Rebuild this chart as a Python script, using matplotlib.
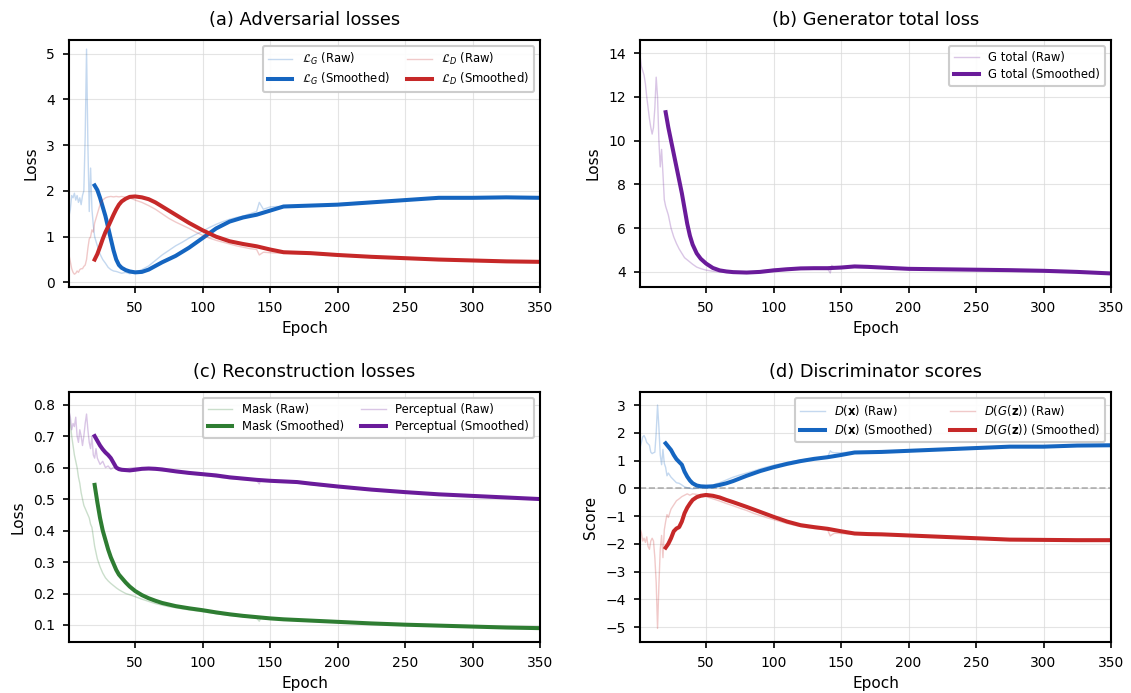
import matplotlib
matplotlib.use("Agg")
import matplotlib.pyplot as plt

# ---------------- data ----------------
raw_epochs = [1, 2, 3, 4, 5, 6, 7, 8, 9, 10, 11, 12, 13, 14, 15, 16, 17, 18, 19, 20, 21, 22,
              24, 26, 28, 30, 32, 34, 36, 38, 40, 43, 46, 50, 55, 60, 65, 70, 75, 80, 85, 90,
              95, 100, 105, 110, 115, 120, 125, 130, 135, 140, 142, 143, 145, 150, 155, 160,
              170, 180, 190, 200, 220, 240, 260, 280, 300, 320, 340, 350]
smooth_epochs = [20, 22, 24, 26, 28, 30, 32, 34, 36, 38, 40, 43, 46, 50, 55, 60, 65, 70, 80, 90,
                 100, 110, 120, 130, 140, 150, 160, 170, 180, 200, 225, 250, 275, 300, 325, 350]

lg_raw = [1.45, 1.6, 1.9, 1.85, 1.95, 1.8, 1.9, 1.75, 1.85, 1.7, 1.9, 2.0, 3.2, 5.1, 3.0, 1.55, 2.5, 1.6,
          1.25, 1.0, 0.9, 0.8, 0.62, 0.5, 0.42, 0.33, 0.28, 0.25, 0.24, 0.22, 0.2, 0.22, 0.19, 0.22,
          0.28, 0.36, 0.48, 0.6, 0.7, 0.8, 0.88, 0.97, 1.05, 1.12, 1.2, 1.27, 1.33, 1.38, 1.42, 1.45,
          1.5, 1.55, 1.75, 1.7, 1.6, 1.65, 1.66, 1.65, 1.67, 1.68, 1.7, 1.72, 1.76, 1.79, 1.82, 1.85,
          1.85, 1.86, 1.85, 1.85]
ld_raw = [0.6, 0.45, 0.3, 0.22, 0.18, 0.2, 0.25, 0.22, 0.28, 0.3, 0.3, 0.35, 0.38, 0.5, 0.75, 0.95,
          1.0, 1.15, 1.1, 1.3, 1.4, 1.5, 1.7, 1.8, 1.85, 1.87, 1.88, 1.87, 1.88, 1.87, 1.88, 1.86,
          1.85, 1.8, 1.75, 1.68, 1.6, 1.5, 1.4, 1.32, 1.25, 1.18, 1.1, 1.03, 0.97, 0.92, 0.88, 0.84,
          0.8, 0.77, 0.74, 0.72, 0.6, 0.62, 0.66, 0.65, 0.64, 0.64, 0.63, 0.62, 0.6, 0.58, 0.56,
          0.53, 0.51, 0.49, 0.47, 0.46, 0.45, 0.45]
lg_smooth = [2.12, 2.02, 1.85, 1.65, 1.45, 1.2, 0.95, 0.7, 0.5, 0.38, 0.32, 0.27, 0.24, 0.22, 0.23,
             0.28, 0.36, 0.44, 0.58, 0.76, 0.97, 1.18, 1.33, 1.42, 1.48, 1.57, 1.66, 1.67, 1.68,
             1.70, 1.75, 1.80, 1.85, 1.85, 1.86, 1.85]
ld_smooth = [0.5, 0.62, 0.78, 0.95, 1.1, 1.22, 1.35, 1.48, 1.6, 1.7, 1.77, 1.83, 1.87, 1.88, 1.86,
             1.82, 1.75, 1.66, 1.48, 1.3, 1.14, 1.0, 0.9, 0.84, 0.79, 0.72, 0.66, 0.65, 0.64, 0.60,
             0.56, 0.53, 0.5, 0.48, 0.46, 0.45]

gtot_raw = [13.9, 13.4, 13.2, 13.0, 12.6, 12.0, 11.5, 11.0, 10.6, 10.3, 10.6, 11.5, 12.9, 12.0, 10.0,
            8.8, 9.6, 8.5, 7.3, 7.0, 6.8, 6.6, 6.0, 5.6, 5.3, 5.05, 4.85, 4.65, 4.55, 4.45, 4.35,
            4.22, 4.15, 4.08, 4.03, 4.0, 3.98, 3.97, 3.97, 3.98, 4.0, 4.05, 4.08, 4.12, 4.15, 4.17,
            4.18, 4.18, 4.18, 4.17, 4.17, 4.15, 3.95, 4.3, 4.22, 4.23, 4.25, 4.26, 4.22, 4.18, 4.15,
            4.13, 4.12, 4.11, 4.1, 4.08, 4.05, 4.01, 3.97, 3.93]
gtot_smooth = [11.3, 10.6, 10.0, 9.4, 8.8, 8.2, 7.6, 6.9, 6.2, 5.65, 5.25, 4.85, 4.6, 4.38, 4.18,
               4.07, 4.02, 3.99, 3.97, 4.0, 4.07, 4.12, 4.16, 4.17, 4.17, 4.2, 4.25, 4.23, 4.2,
               4.14, 4.12, 4.1, 4.08, 4.05, 4.0, 3.93]

mask_raw = [0.78, 0.74, 0.7, 0.67, 0.64, 0.62, 0.6, 0.57, 0.55, 0.52, 0.5, 0.48, 0.47, 0.46, 0.45,
            0.44, 0.42, 0.41, 0.38, 0.35, 0.33, 0.31, 0.285, 0.265, 0.25, 0.24, 0.232, 0.225, 0.218,
            0.212, 0.207, 0.2, 0.196, 0.19, 0.182, 0.175, 0.168, 0.163, 0.158, 0.155, 0.151, 0.148,
            0.145, 0.142, 0.139, 0.136, 0.133, 0.13, 0.128, 0.126, 0.124, 0.122, 0.112, 0.121, 0.12,
            0.119, 0.118, 0.117, 0.115, 0.112, 0.11, 0.108, 0.105, 0.102, 0.1, 0.098, 0.095, 0.093,
            0.091, 0.09]
mask_smooth = [0.545, 0.49, 0.44, 0.40, 0.37, 0.34, 0.315, 0.295, 0.275, 0.26, 0.25, 0.235, 0.222,
               0.208, 0.195, 0.185, 0.177, 0.17, 0.16, 0.153, 0.147, 0.14, 0.134, 0.129, 0.125,
               0.121, 0.118, 0.116, 0.114, 0.11, 0.105, 0.101, 0.098, 0.095, 0.092, 0.09]
perc_raw = [0.78, 0.76, 0.72, 0.74, 0.73, 0.76, 0.7, 0.68, 0.72, 0.7, 0.67, 0.7, 0.74, 0.77, 0.72,
            0.68, 0.66, 0.7, 0.64, 0.63, 0.66, 0.63, 0.61, 0.62, 0.6, 0.605, 0.595, 0.6, 0.598, 0.6,
            0.597, 0.595, 0.598, 0.6, 0.598, 0.596, 0.593, 0.59, 0.588, 0.585, 0.583, 0.58, 0.578,
            0.576, 0.573, 0.57, 0.567, 0.565, 0.563, 0.562, 0.56, 0.559, 0.548, 0.56, 0.558, 0.557,
            0.556, 0.555, 0.551, 0.546, 0.541, 0.537, 0.53, 0.524, 0.518, 0.513, 0.509, 0.505,
            0.501, 0.499]
perc_smooth = [0.70, 0.685, 0.67, 0.658, 0.648, 0.64, 0.63, 0.615, 0.6, 0.595, 0.593, 0.592, 0.591,
               0.593, 0.596, 0.597, 0.596, 0.594, 0.588, 0.583, 0.579, 0.575, 0.569, 0.565, 0.561,
               0.558, 0.556, 0.554, 0.549, 0.54, 0.53, 0.522, 0.515, 0.51, 0.505, 0.5]

dx_raw = [1.45, 1.65, 1.85, 1.9, 1.8, 1.65, 1.6, 1.55, 1.3, 1.25, 1.28, 1.3, 2.0, 3.0, 2.2, 1.2, 0.85,
          1.4, 0.9, 0.75, 0.45, 0.55, 0.4, 0.3, 0.2, 0.18, 0.12, 0.05, 0.02, 0.0, -0.02, 0.0, 0.02,
          0.05, 0.12, 0.2, 0.3, 0.4, 0.48, 0.55, 0.62, 0.7, 0.77, 0.83, 0.88, 0.93, 0.98, 1.02, 1.05,
          1.08, 1.1, 1.13, 1.35, 1.3, 1.28, 1.28, 1.3, 1.3, 1.31, 1.33, 1.34, 1.36, 1.4, 1.43, 1.47,
          1.5, 1.5, 1.53, 1.55, 1.55]
dx_smooth = [1.62, 1.5, 1.38, 1.2, 1.05, 0.95, 0.85, 0.6, 0.42, 0.28, 0.18, 0.1, 0.07, 0.06, 0.07,
             0.12, 0.18, 0.26, 0.45, 0.62, 0.76, 0.88, 0.98, 1.06, 1.12, 1.2, 1.29, 1.3, 1.31, 1.35,
             1.4, 1.45, 1.5, 1.5, 1.54, 1.55]
dgz_raw = [-1.45, -1.6, -1.9, -1.8, -1.95, -1.75, -2.1, -2.2, -1.9, -1.8, -1.9, -2.5, -3.4, -5.05,
           -3.5, -2.2, -1.7, -2.5, -1.5, -1.2, -0.95, -1.05, -0.75, -0.6, -0.45, -0.38, -0.3, -0.25,
           -0.2, -0.25, -0.2, -0.22, -0.25, -0.3, -0.38, -0.46, -0.55, -0.63, -0.72, -0.8, -0.9,
           -0.98, -1.06, -1.13, -1.2, -1.27, -1.33, -1.38, -1.42, -1.45, -1.48, -1.5, -1.72, -1.68,
           -1.62, -1.63, -1.65, -1.65, -1.67, -1.68, -1.69, -1.71, -1.75, -1.78, -1.82, -1.85,
           -1.86, -1.87, -1.87, -1.87]
dgz_smooth = [-2.14, -2.0, -1.8, -1.55, -1.45, -1.4, -1.2, -0.9, -0.7, -0.55, -0.42, -0.32, -0.27,
              -0.24, -0.27, -0.33, -0.42, -0.5, -0.67, -0.85, -1.03, -1.2, -1.33, -1.4, -1.46,
              -1.55, -1.63, -1.65, -1.66, -1.7, -1.75, -1.8, -1.85, -1.86, -1.87, -1.87]

x_ticks = [50, 100, 150, 200, 250, 300, 350]
titles = ["(a) Adversarial losses", "(b) Generator total loss",
          "(c) Reconstruction losses", "(d) Discriminator scores"]

# ---------------- style ----------------
BLUE = "#1565C0"
RED = "#C62828"
PURPLE = "#6A1B9A"
GREEN = "#2E7D32"
RAW_A = 0.25
RAW_LW = 1.0
SM_LW = 2.9

plt.rcParams["font.family"] = ["DejaVu Sans"]
plt.rcParams["mathtext.fontset"] = "dejavusans"

W, H = 1131, 693
fig = plt.figure(figsize=(W / 100, H / 100), dpi=100)


def ax_at(l, r, t, b):
    return fig.add_axes([l / W, 1 - b / H, (r - l) / W, (b - t) / H])


axa = ax_at(69, 540, 40, 287)
axb = ax_at(640, 1111, 40, 287)
axc = ax_at(69, 540, 392, 642)
axd = ax_at(640, 1111, 392, 642)


def style(ax, title, ylabel):
    ax.set_title(title, fontsize=12.8, pad=10.5)
    ax.set_xlabel("Epoch", fontsize=11, labelpad=4)
    ax.set_ylabel(ylabel, fontsize=11, labelpad=5.5)
    ax.set_xlim(1, 350)
    ax.set_xticks(x_ticks)
    ax.grid(True, color="#d9d9d9", lw=0.8, alpha=0.7)
    ax.set_axisbelow(True)
    for s in ax.spines.values():
        s.set_linewidth(1.5)
        s.set_color("black")
    ax.tick_params(direction="out", length=4, width=1.2, labelsize=10, pad=6.3)


def legend(ax, ncol):
    lg = ax.legend(loc="upper right", ncol=ncol, fontsize=8.4, frameon=True, fancybox=True,
                   framealpha=0.9, edgecolor="#c8c8c8", borderpad=0.45, columnspacing=1.5,
                   handlelength=2.1, labelspacing=0.3)
    lg.get_frame().set_linewidth(1.5)


# (a)
axa.plot(raw_epochs, lg_raw, color=BLUE, alpha=RAW_A, lw=RAW_LW, label=r"$\mathcal{L}_G$ (Raw)")
axa.plot(smooth_epochs, lg_smooth, color=BLUE, lw=SM_LW, label=r"$\mathcal{L}_G$ (Smoothed)")
axa.plot(raw_epochs, ld_raw, color=RED, alpha=RAW_A, lw=RAW_LW, label=r"$\mathcal{L}_D$ (Raw)")
axa.plot(smooth_epochs, ld_smooth, color=RED, lw=SM_LW, label=r"$\mathcal{L}_D$ (Smoothed)")
style(axa, titles[0], "Loss")
axa.set_ylim(-0.1, 5.3)
legend(axa, 2)

# (b)
axb.plot(raw_epochs, gtot_raw, color=PURPLE, alpha=RAW_A, lw=RAW_LW, label="G total (Raw)")
axb.plot(smooth_epochs, gtot_smooth, color=PURPLE, lw=SM_LW, label="G total (Smoothed)")
style(axb, titles[1], "Loss")
axb.set_ylim(3.31, 14.6)
legend(axb, 1)

# (c)
axc.plot(raw_epochs, mask_raw, color=GREEN, alpha=RAW_A, lw=RAW_LW, label="Mask (Raw)")
axc.plot(smooth_epochs, mask_smooth, color=GREEN, lw=SM_LW, label="Mask (Smoothed)")
axc.plot(raw_epochs, perc_raw, color=PURPLE, alpha=RAW_A, lw=RAW_LW, label="Perceptual (Raw)")
axc.plot(smooth_epochs, perc_smooth, color=PURPLE, lw=SM_LW, label="Perceptual (Smoothed)")
style(axc, titles[2], "Loss")
axc.set_ylim(0.046, 0.84)
legend(axc, 2)

# (d)
axd.axhline(0, color="gray", ls="--", lw=1.2, alpha=0.6)
axd.plot(raw_epochs, dx_raw, color=BLUE, alpha=RAW_A, lw=RAW_LW, label=r"$D(\mathbf{x})$ (Raw)")
axd.plot(smooth_epochs, dx_smooth, color=BLUE, lw=SM_LW, label=r"$D(\mathbf{x})$ (Smoothed)")
axd.plot(raw_epochs, dgz_raw, color=RED, alpha=RAW_A, lw=RAW_LW, label=r"$D(G(\mathbf{z}))$ (Raw)")
axd.plot(smooth_epochs, dgz_smooth, color=RED, lw=SM_LW, label=r"$D(G(\mathbf{z}))$ (Smoothed)")
style(axd, titles[3], "Score")
axd.set_ylim(-5.54, 3.47)
axd.set_yticks(range(-5, 4))
legend(axd, 2)

fig.savefig("out.png", dpi=100)
